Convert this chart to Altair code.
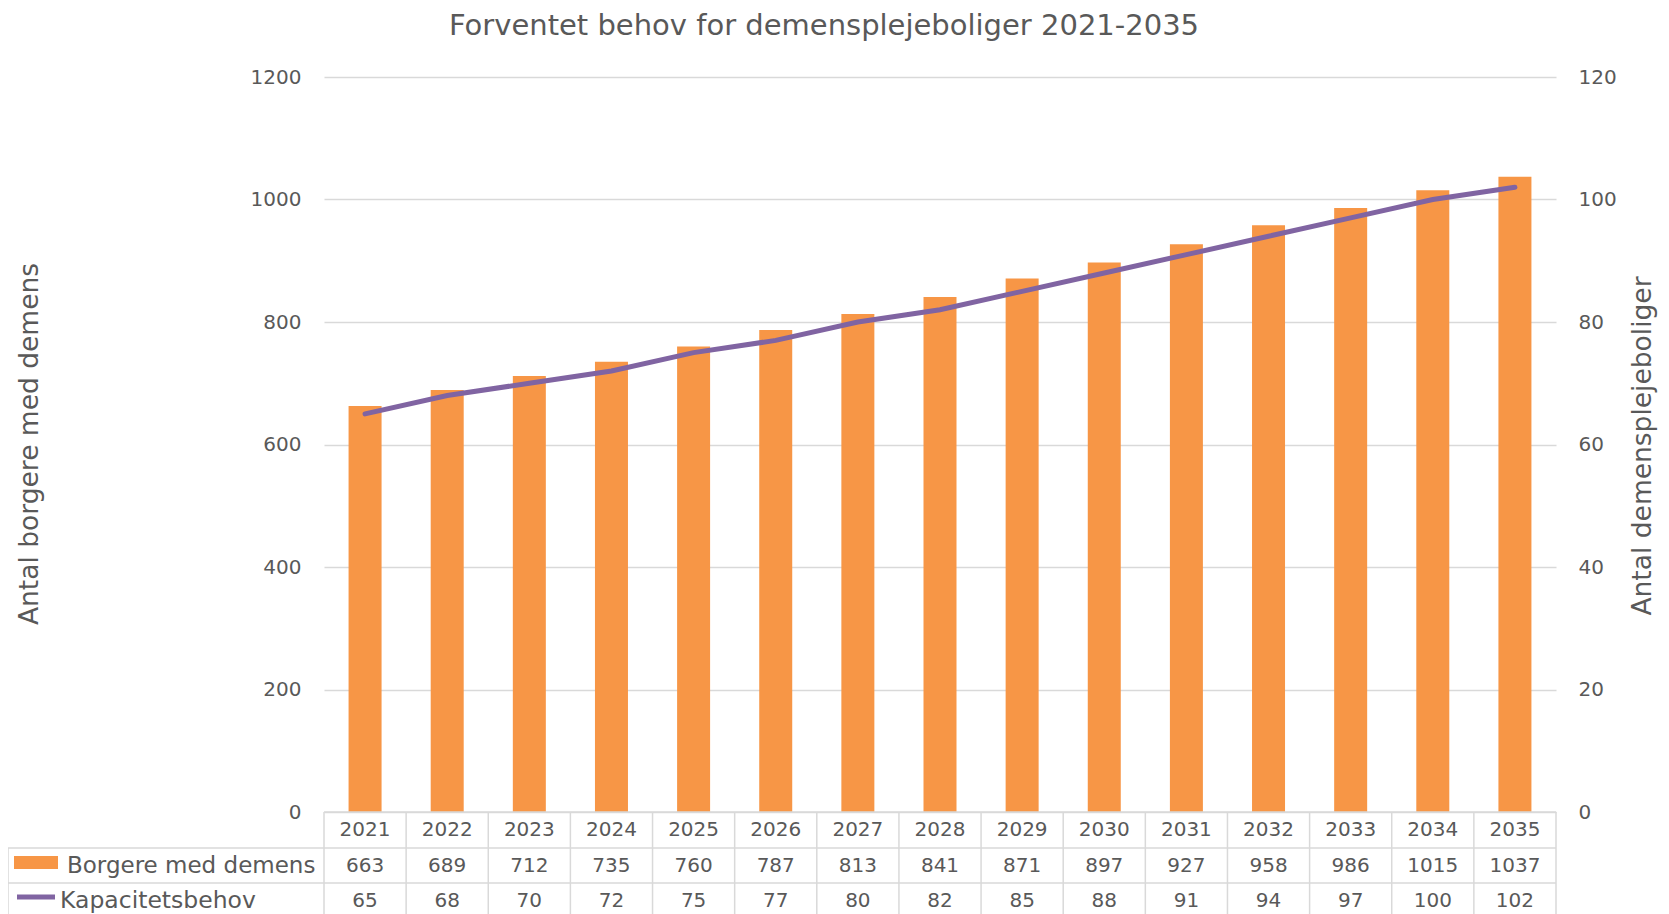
import altair as alt
import pandas as pd

# ---- data ----
years = [2021, 2022, 2023, 2024, 2025, 2026, 2027, 2028, 2029, 2030, 2031, 2032, 2033, 2034, 2035]
borgere = [663, 689, 712, 735, 760, 787, 813, 841, 871, 897, 927, 958, 986, 1015, 1037]
kapacitet = [65, 68, 70, 72, 75, 77, 80, 82, 85, 88, 91, 94, 97, 100, 102]
left_ticks = [0, 200, 400, 600, 800, 1000, 1200]
right_ticks = [0, 20, 40, 60, 80, 100, 120]
title_text = "Forventet behov for demensplejeboliger 2021-2035"
series_names = ["Borgere med demens", "Kapacitetsbehov"]
y_left_title = "Antal borgere med demens"
y_right_title = "Antal demensplejeboliger"

df = pd.DataFrame({"year": [str(y) for y in years], "borgere": borgere, "kap": kapacitet})
one = pd.DataFrame({"k": [0]})

W, H = 1232, 735
BOTTOM = 837
ROW1, ROW2 = 771, 806
LEFT = -316
GREY = "#595959"
GRID = "#D9D9D9"
ORANGE = "#F79646"
PURPLE = "#8064A2"
FONT = "DejaVu Sans"
NUM = 20

xscale = alt.Scale(type="band", paddingInner=0, paddingOuter=0)
xenc = alt.X("year:O", axis=None, scale=xscale, sort=None)

bars = alt.Chart(df).mark_bar(size=33, color=ORANGE).encode(
    x=xenc,
    y=alt.Y("borgere:Q", scale=alt.Scale(domain=[0, 1200]),
            axis=alt.Axis(values=left_ticks, format="d", title=None, grid=True, gridColor=GRID,
                          gridWidth=1.5, domain=False, ticks=False, labelPadding=23, labelFontSize=NUM,
                          labelColor=GREY, labelFont=FONT, orient="left")),
)

line = alt.Chart(df).mark_line(color=PURPLE, strokeWidth=5, strokeCap="round").encode(
    x=xenc,
    y=alt.Y("kap:Q", scale=alt.Scale(domain=[0, 120]),
            axis=alt.Axis(values=right_ticks, format="d", title=None, grid=False, domain=False,
                          ticks=False, labelPadding=22, labelFontSize=NUM, labelColor=GREY,
                          labelFont=FONT, orient="right")),
)

# table: vertical lines at band edges
vlines = alt.Chart(df).mark_rule(color=GRID, strokeWidth=1.5).encode(
    x=alt.X("year:O", axis=None, scale=xscale, sort=None, bandPosition=0),
    y=alt.value(H), y2=alt.value(BOTTOM),
)
vright = alt.Chart(one).mark_rule(color=GRID, strokeWidth=1.5).encode(
    x=alt.value(W), y=alt.value(H), y2=alt.value(BOTTOM))
vleft = alt.Chart(one).mark_rule(color=GRID, strokeWidth=1.5).encode(
    x=alt.value(LEFT), y=alt.value(ROW1), y2=alt.value(BOTTOM))
htop = alt.Chart(one).mark_rule(color=GRID, strokeWidth=1.5).encode(
    x=alt.value(0), x2=alt.value(W), y=alt.value(H))
h1 = alt.Chart(one).mark_rule(color=GRID, strokeWidth=1.5).encode(
    x=alt.value(LEFT), x2=alt.value(W), y=alt.value(ROW1))
h2 = alt.Chart(one).mark_rule(color=GRID, strokeWidth=1.5).encode(
    x=alt.value(LEFT), x2=alt.value(W), y=alt.value(ROW2))

txt = dict(font=FONT, fontSize=NUM, color=GREY, baseline="middle", align="center")
t_year = alt.Chart(df).mark_text(**txt).encode(x=xenc, y=alt.value(753), text="year:N")
t_borg = alt.Chart(df).mark_text(**txt).encode(x=xenc, y=alt.value(788.5), text="borgere:Q")
t_kap = alt.Chart(df).mark_text(**txt).encode(x=xenc, y=alt.value(823.5), text="kap:Q")

# legend keys inside table
sw_bar = alt.Chart(one).mark_rect(color=ORANGE).encode(
    x=alt.value(-310), x2=alt.value(-266), y=alt.value(779), y2=alt.value(792))
sw_line = alt.Chart(one).mark_rule(color=PURPLE, strokeWidth=5).encode(
    x=alt.value(-307), x2=alt.value(-269), y=alt.value(820))
lab_b = alt.Chart(one).mark_text(font=FONT, fontSize=23, color=GREY, baseline="middle", align="left").encode(
    x=alt.value(-257), y=alt.value(788.5), text=alt.value(series_names[0]))
lab_k = alt.Chart(one).mark_text(font=FONT, fontSize=23.5, color=GREY, baseline="middle", align="left").encode(
    x=alt.value(-264), y=alt.value(823.5), text=alt.value(series_names[1]))

# titles
t_title = alt.Chart(one).mark_text(font=FONT, fontSize=29, color=GREY, baseline="middle", align="center").encode(
    x=alt.value(500), y=alt.value(-51), text=alt.value(title_text))
t_left = alt.Chart(one).mark_text(font=FONT, fontSize=26.5, color=GREY, baseline="middle", align="center",
                                  angle=270).encode(
    x=alt.value(-294), y=alt.value(367), text=alt.value(y_left_title))
t_right = alt.Chart(one).mark_text(font=FONT, fontSize=26.5, color=GREY, baseline="middle", align="center",
                                   angle=270).encode(
    x=alt.value(1319), y=alt.value(369), text=alt.value(y_right_title))

chart = alt.layer(
    bars, line, vlines, vright, vleft, htop, h1, h2, t_year, t_borg, t_kap,
    sw_bar, sw_line, lab_b, lab_k, t_title, t_left, t_right
).resolve_scale(y="independent").properties(
    width=W, height=H,
    padding={"left": 316, "top": 69, "right": 105, "bottom": 102},
    autosize=alt.AutoSizeParams(type="none"),
    background="white",
).configure_view(stroke=None)

chart.save("out.html", embed_options={"renderer": "svg", "actions": False})
